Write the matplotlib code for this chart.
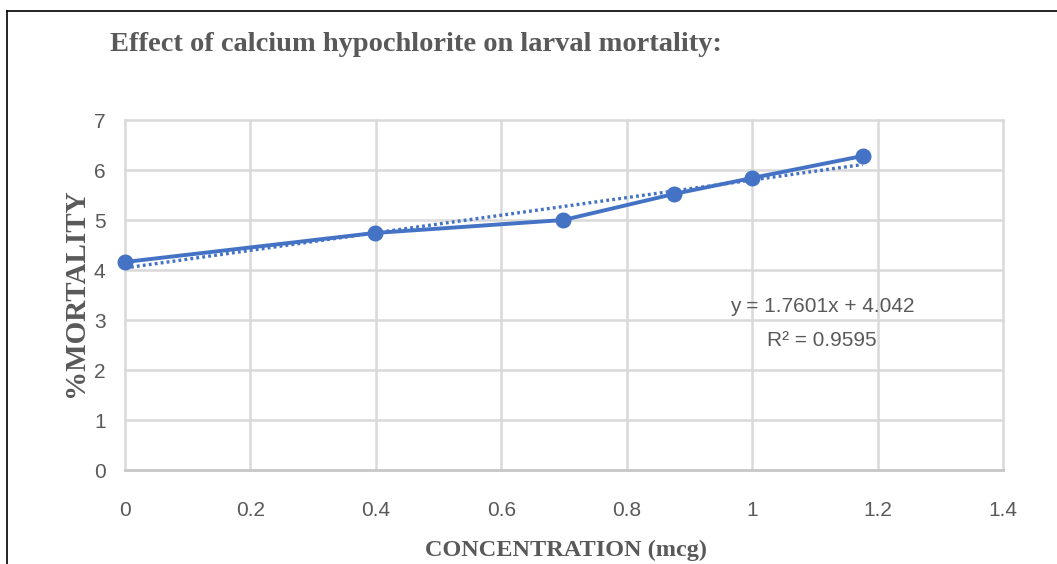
import numpy as np
import matplotlib
matplotlib.use("Agg")
import matplotlib.pyplot as plt
from matplotlib.lines import Line2D

# Data
concentration = [0.0, 0.398, 0.699, 0.875, 1.0, 1.176]
mortality = [4.16, 4.74, 5.0, 5.52, 5.84, 6.28]
x_ticks = [0, 0.2, 0.4, 0.6, 0.8, 1.0, 1.2, 1.4]
x_ticklabels = ["0", "0.2", "0.4", "0.6", "0.8", "1", "1.2", "1.4"]
y_ticks = [0, 1, 2, 3, 4, 5, 6, 7]
title = "Effect of calcium hypochlorite on larval mortality:"
xlabel = "CONCENTRATION (mcg)"
ylabel = "%MORTALITY"
eq_line1 = "y = 1.7601x + 4.042"
eq_line2 = "R² = 0.9595"

W, H = 1057, 564
fig = plt.figure(figsize=(W / 100, H / 100), dpi=100)
ax = fig.add_axes([125 / W, 1 - 470 / H, (1003 - 125) / W, (470 - 120) / H])

blue = "#4472C4"
grid_c = "#D9D9D9"
tick_c = "#595959"
sans = ["Liberation Sans", "DejaVu Sans"]
serif = ["Liberation Serif", "DejaVu Serif"]

# trendline (linear fit)
coef = np.polyfit(concentration, mortality, 1)
xs = np.array([concentration[0], concentration[-1]])
ax.plot(xs, np.polyval(coef, xs), color=blue, lw=2.4,
        linestyle=(0, (0.85, 0.95)), dash_capstyle="butt", zorder=3)

ax.plot(concentration, mortality, color=blue, lw=2.8, marker="o",
        markersize=10.5, zorder=4, clip_on=False)

ax.set_xlim(0, 1.4)
ax.set_ylim(0, 7)
ax.set_xticks(x_ticks)
ax.set_xticklabels(x_ticklabels)
ax.set_yticks(y_ticks)
for s in ax.spines.values():
    s.set_visible(False)
ax.grid(True, color=grid_c, lw=1.8)
ax.set_axisbelow(True)
for gl in ax.get_xgridlines() + ax.get_ygridlines():
    gl.set_clip_on(False)
ax.axhline(0, color="#C8C8C8", lw=2.0, zorder=2, clip_on=False)
ax.tick_params(length=0, colors=tick_c, labelsize=15)
ax.tick_params(axis="y", pad=14)
ax.tick_params(axis="x", pad=22)
for lab in ax.get_xticklabels() + ax.get_yticklabels():
    lab.set_family(sans)

fig.text(822 / W, 1 - 307 / H, eq_line1, ha="center", va="center",
         fontsize=15, color=tick_c, family=sans)
fig.text(822 / W, 1 - 340 / H, eq_line2, ha="center", va="center",
         fontsize=15, color=tick_c, family=sans)

fig.text(110 / W, 1 - 51 / H, title, ha="left", va="baseline", fontsize=20.5,
         fontweight="bold", color="#595959", family=serif)
fig.text(566 / W, 1 - 556 / H, xlabel, ha="center", va="baseline", fontsize=17.5,
         fontweight="bold", color="#595959", family=serif)
fig.text(75 / W, 1 - 293 / H, ylabel, ha="center", va="center", rotation=90,
         fontsize=21, fontweight="bold", color="#595959", family=serif)

# border lines
fig.add_artist(Line2D([7 / W, 1], [1 - 11 / H, 1 - 11 / H], color="black", lw=1.2))
fig.add_artist(Line2D([7 / W, 7 / W], [0, 1 - 11 / H], color="black", lw=1.2))

fig.savefig("out.png", dpi=100)
